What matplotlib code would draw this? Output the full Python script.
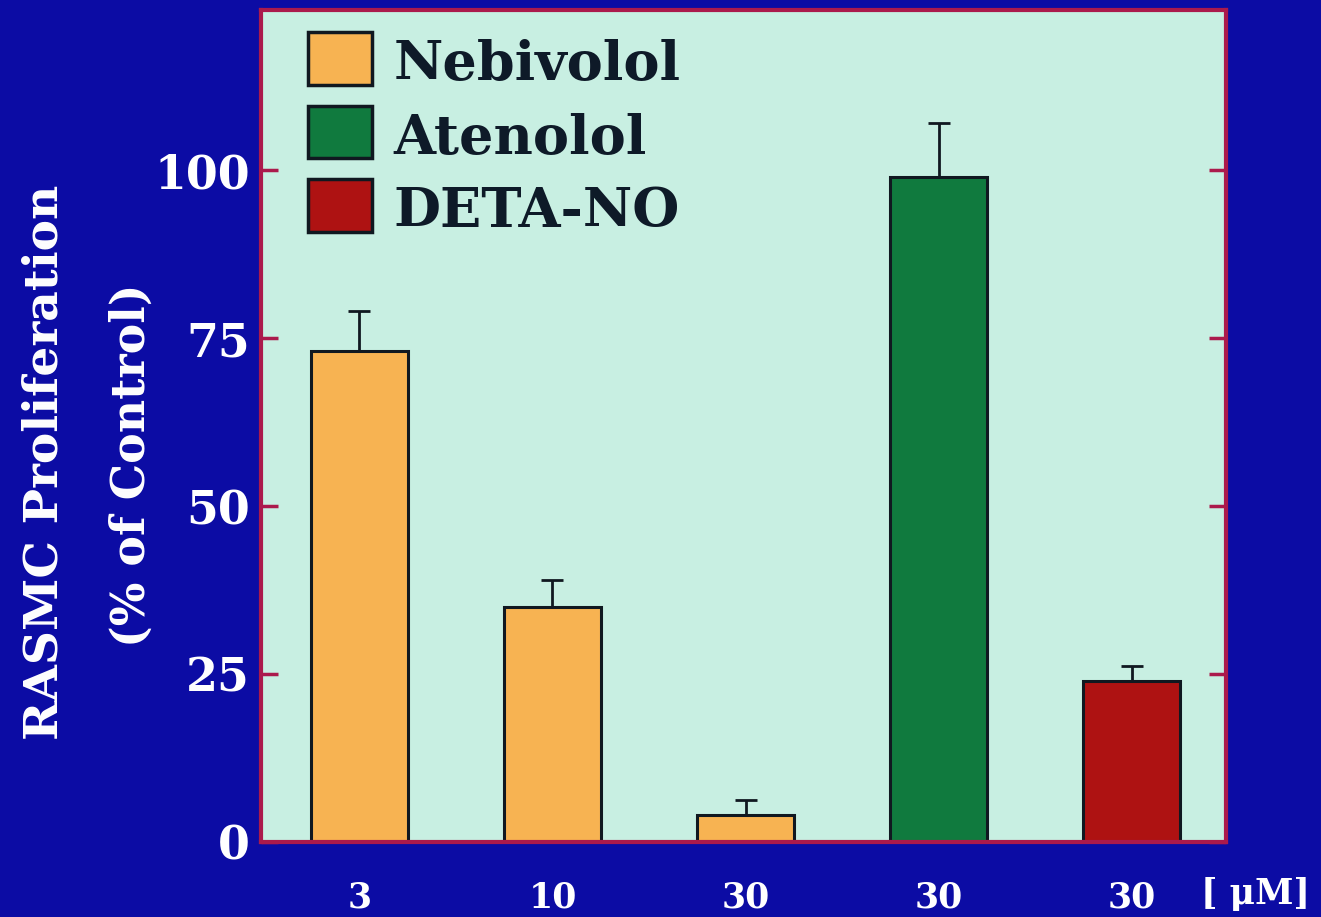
import matplotlib.pyplot as plt
from matplotlib.patches import Rectangle

# RASMC proliferation after drug treatment, % of control
DOSE_LABELS = ["3", "10", "30", "30", "30"]
DRUGS = ["Nebivolol", "Nebivolol", "Nebivolol", "Atenolol", "DETA-NO"]
PROLIFERATION = [73, 35, 4, 99, 24]
SEM = [6, 4, 2.2, 8, 2.2]

LEGEND_NAMES = ["Nebivolol", "Atenolol", "DETA-NO"]
DRUG_COLORS = {
    "Nebivolol": "#f7b352",
    "Atenolol": "#107a3e",
    "DETA-NO": "#ae1212",
}

BG_BLUE = "#0c0ca4"
PANEL = "#c8efe2"
FRAME_RED = "#ab1a4c"
INK = "#101820"
FONT = "DejaVu Serif"


def main():
    fig = plt.figure(figsize=(13.21, 9.17), dpi=100, facecolor=BG_BLUE)
    ax = fig.add_axes([0.1976, 0.0818, 0.7306, 0.9072])
    ax.set_facecolor(PANEL)

    x = list(range(len(PROLIFERATION)))
    colors = [DRUG_COLORS[d] for d in DRUGS]
    ax.bar(x, PROLIFERATION, width=0.5, color=colors,
           edgecolor=INK, linewidth=2.2, zorder=2)
    ax.errorbar(x, PROLIFERATION, yerr=[[0] * len(SEM), SEM], fmt="none",
                ecolor=INK, elinewidth=2, capsize=8, capthick=2, zorder=1)

    ax.set_xlim(-0.51, 4.49)
    ax.set_ylim(0, 123.8)

    for side in ["left", "right", "top", "bottom"]:
        ax.spines[side].set_color(FRAME_RED)
        ax.spines[side].set_linewidth(3)

    ax.set_yticks([0, 25, 50, 75, 100])
    ax.tick_params(axis="y", which="both", direction="in", length=12,
                   width=2.5, color=FRAME_RED, left=True, right=True, pad=8,
                   labelcolor="white", labelsize=33)
    ax.set_xticks(x)
    ax.set_xticklabels(DOSE_LABELS)
    ax.tick_params(axis="x", length=0, pad=28, labelcolor="white",
                   labelsize=25)
    for lbl in ax.get_xticklabels() + ax.get_yticklabels():
        lbl.set_family(FONT)
        lbl.set_fontweight("bold")

    fig.text(0.9505, 0.025, "[ \u03bcM]", color="white", fontsize=25,
             family=FONT, fontweight="bold", ha="center", va="center")

    # two-line y axis title
    fig.text(0.034, 0.496, "RASMC Proliferation", rotation=90, color="white",
             fontsize=34, family=FONT, fontweight="bold",
             ha="center", va="center")
    fig.text(0.100, 0.493, "(% of Control)", rotation=90, color="white",
             fontsize=33, family=FONT, fontweight="bold",
             ha="center", va="center")

    # legend boxes drawn in axes coordinates
    for i, name in enumerate(LEGEND_NAMES):
        y0 = 0.9099 - i * 0.0883
        ax.add_patch(Rectangle((0.0487, y0), 0.0663, 0.0637,
                               transform=ax.transAxes,
                               facecolor=DRUG_COLORS[name],
                               edgecolor=INK, linewidth=2.5, zorder=3))
        ax.text(0.137, y0 + 0.024, name, transform=ax.transAxes,
                fontsize=39, family=FONT, fontweight="bold",
                color="#0e1a28", va="center", ha="left")

    fig.savefig("out.png", dpi=100, facecolor=BG_BLUE)
    plt.close(fig)


if __name__ == "__main__":
    main()
